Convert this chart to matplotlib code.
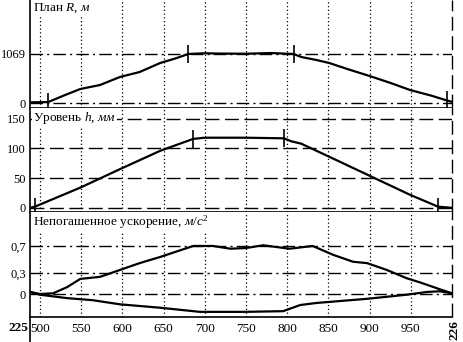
"""Plan, superelevation and unbalanced acceleration along a curve, km 225-226."""

import matplotlib.pyplot as plt
import numpy as np

plt.rcParams.update({
    'font.family': ['Liberation Serif', 'DejaVu Serif'],
    'font.size': 9,
    'mathtext.fontset': 'custom',
    'mathtext.rm': 'Liberation Serif',
    'mathtext.it': 'Liberation Serif:italic',
})

# chainage, m (from km 225 + 488 to km 226)
X_MIN, X_MAX = 488, 1000
x_grid = [500, 550, 600, 650, 700, 750, 800, 850, 900, 950]

# plan: radius R, m
plan_x = [488, 510, 530, 549, 573, 597, 621, 646, 665, 680, 700, 720, 750,
          780, 808, 817, 835, 851, 875, 900, 925, 949, 975, 994, 1000]
plan_r = [15, 20, 170, 305, 393, 567, 676, 873, 975, 1069, 1085, 1078, 1075,
          1090, 1069, 1004, 940, 873, 730, 589, 440, 284, 160, 55, 25]
plan_marks = [510, 680, 808, 994]
plan_ticks = [0, 1069]

# superelevation h, mm
lvl_x = [488, 494, 549, 597, 646, 686, 700, 750, 796, 805, 817, 851, 900,
         949, 983, 1000]
lvl_h = [0, 2, 34, 65, 96, 116, 118, 118, 117, 112, 108, 86, 54, 22, 2, 0]
lvl_marks = [494, 686, 796, 983]
lvl_ticks = [0, 50, 100, 150]

# unbalanced acceleration, m/s2 (two traces)
acc_x_up = [488, 500, 516, 533, 549, 573, 597, 621, 646, 686, 710, 731, 750,
            771, 790, 803, 831, 856, 880, 897, 921, 945, 961, 985, 1000]
acc_up = [0.03, 0.0, 0.01, 0.10, 0.22, 0.25, 0.35, 0.45, 0.54, 0.70, 0.70,
          0.66, 0.67, 0.71, 0.68, 0.66, 0.70, 0.57, 0.47, 0.45, 0.35, 0.23,
          0.17, 0.07, 0.01]
acc_x_lo = [488, 500, 533, 564, 597, 646, 694, 749, 795, 816, 836, 897, 945,
            970, 985, 1000]
acc_lo = [0.03, -0.01, -0.06, -0.09, -0.15, -0.20, -0.26, -0.26, -0.25,
          -0.16, -0.13, -0.07, -0.01, 0.03, 0.04, 0.01]
acc_ticks = [0, 0.3, 0.7]
acc_tick_labels = ['0', '0,3', '0,7']

DOT = (0, (1, 2))
DASHDOT = (0, (9, 3, 1.5, 3))
DASH = (0, (10, 4))
LW = 1.6

fig = plt.figure(figsize=(4.63, 3.42), dpi=100)
left, width = 30 / 463, 422 / 463
ax1 = fig.add_axes([left, 234 / 342, width, 108 / 342])
ax2 = fig.add_axes([left, 130 / 342, width, 104 / 342])
ax3 = fig.add_axes([left, 25 / 342, width, 105 / 342])

ax1.set_ylim(-109, 2247)
ax2.set_ylim(-7, 168)
ax3.set_ylim(-0.335, 1.195)

for ax in (ax1, ax2, ax3):
    ax.set_xlim(X_MIN, X_MAX)
    ax.spines['right'].set_visible(False)
    ax.spines['top'].set_visible(False)
    ax.spines['left'].set_linewidth(1.2)
    ax.spines['bottom'].set_linewidth(1.2)
    for xv in x_grid:
        ax.axvline(xv, color='k', lw=0.9, ls=DOT, zorder=1)
    ax.axvline(X_MAX, color='k', lw=1.0, ls=DASH, zorder=1, clip_on=False)
    ax.tick_params(axis='y', length=0, pad=3, labelsize=9)
    ax.tick_params(axis='x', length=0)
    ax.set_xticks(x_grid)

ax1.tick_params(labelbottom=False)
ax2.tick_params(labelbottom=False)

# plan
ax1.set_yticks(plan_ticks, [str(t) for t in plan_ticks])
for t in plan_ticks:
    ax1.axhline(t, color='k', lw=1.0, ls=DASHDOT, zorder=1)
ax1.plot(plan_x, plan_r, color='k', lw=LW, zorder=3)
ax1.plot(plan_marks, np.interp(plan_marks, plan_x, plan_r), ls='none',
         marker='|', ms=13, mew=1.2, color='k', zorder=4)
ax1.text(0.007, 0.925, 'План $R$, $м$', transform=ax1.transAxes,
         ha='left', va='center', fontsize=9.5, zorder=5,
         bbox=dict(facecolor='white', edgecolor='none', pad=1))

# superelevation
ax2.set_yticks(lvl_ticks, [str(t) for t in lvl_ticks])
for t in lvl_ticks:
    ax2.axhline(t, color='k', lw=1.0, ls=DASH, zorder=1)
ax2.plot(lvl_x, lvl_h, color='k', lw=LW, zorder=3)
ax2.plot(lvl_marks, np.interp(lvl_marks, lvl_x, lvl_h), ls='none',
         marker='|', ms=13, mew=1.2, color='k', zorder=4)
ax2.text(0.007, 0.905, 'Уровень $h$, $мм$', transform=ax2.transAxes,
         ha='left', va='center', fontsize=9.5, zorder=5,
         bbox=dict(facecolor='white', edgecolor='none', pad=1))

# unbalanced acceleration
ax3.set_yticks(acc_ticks, acc_tick_labels)
for t in acc_ticks:
    ax3.axhline(t, color='k', lw=1.0, ls=DASHDOT, zorder=1)
ax3.plot(acc_x_up, acc_up, color='k', lw=LW, zorder=3)
ax3.plot(acc_x_lo, acc_lo, color='k', lw=LW, zorder=3)
ax3.text(0.007, 0.905, 'Непогашенное ускорение, $м/с^2$',
         transform=ax3.transAxes, ha='left', va='center', fontsize=9.5,
         zorder=5, bbox=dict(facecolor='white', edgecolor='none', pad=1))

ax3.set_xticklabels([str(v) for v in x_grid])
ax3.tick_params(axis='x', pad=4, labelsize=9.5)

# km posts at both ends
ax3.text(X_MIN - 2, -0.49, '225', ha='right', va='center', fontsize=9.5,
         fontweight='bold')
ax3.text(X_MAX + 3, -0.52, '226', ha='center', va='center', fontsize=9.5,
         fontweight='bold', rotation=90)
ax3.plot([X_MIN, X_MIN], [-0.335, -0.75], color='k', lw=1.2, clip_on=False)

fig.savefig('out.png', dpi=100)
